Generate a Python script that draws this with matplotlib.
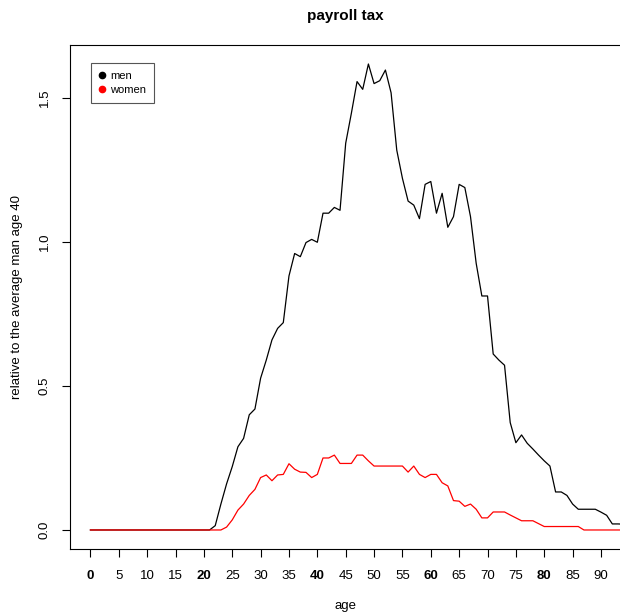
import numpy as np
import matplotlib.pyplot as plt
from matplotlib.lines import Line2D

plt.rcParams['font.family'] = ['Liberation Sans', 'DejaVu Sans']

# payroll tax by age, relative to the average man aged 40
ages = list(range(0, 96))
men = ([0.0] * 22 +
       [0.015, 0.09, 0.16, 0.22, 0.289, 0.318, 0.40, 0.42, 0.527, 0.59,   # 22-31
        0.66, 0.70, 0.72, 0.882, 0.96, 0.949, 0.998, 1.009, 0.999, 1.10,   # 32-41
        1.10, 1.12, 1.11, 1.343, 1.447, 1.557, 1.53, 1.618, 1.55, 1.56,    # 42-51
        1.597, 1.518, 1.319, 1.221, 1.142, 1.128, 1.081, 1.20, 1.21, 1.10, # 52-61
        1.169, 1.051, 1.088, 1.20, 1.189, 1.088, 0.926, 0.8125, 0.8125, 0.611,  # 62-71
        0.59, 0.572, 0.373, 0.303, 0.33, 0.301, 0.281, 0.26, 0.24, 0.222,  # 72-81
        0.132, 0.132, 0.12, 0.09, 0.072, 0.072, 0.072, 0.072, 0.062, 0.051,  # 82-91
        0.021, 0.021, 0.02, 0.02])                                          # 92-95
women = ([0.0] * 23 +
         [0.0, 0.01, 0.035, 0.069, 0.09, 0.12, 0.141, 0.182, 0.191, 0.171,   # 23-32
          0.191, 0.193, 0.23, 0.211, 0.201, 0.20, 0.182, 0.193, 0.25, 0.25,  # 33-42
          0.26, 0.231, 0.231, 0.231, 0.26, 0.26, 0.24, 0.222, 0.222, 0.222,  # 43-52
          0.222, 0.222, 0.222, 0.201, 0.222, 0.193, 0.182, 0.193, 0.193, 0.164,  # 53-62
          0.153, 0.102, 0.10, 0.082, 0.09, 0.072, 0.042, 0.042, 0.0625, 0.0625,  # 63-72
          0.0625, 0.052, 0.042, 0.032, 0.032, 0.032, 0.022, 0.012, 0.012, 0.012,  # 73-82
          0.012, 0.012, 0.012, 0.012, 0.0, 0.0, 0.0, 0.0, 0.0, 0.0,          # 83-92
          0.0, 0.0, 0.0])                                                    # 93-95

xticks = list(range(0, 91, 5))
yticks = [0.0, 0.5, 1.0, 1.5]

fig = plt.figure(figsize=(6.2, 6.14), dpi=100)
ax = fig.add_axes([70 / 620, 65.3 / 614, 551.4 / 620, 504 / 614])

ax.plot(ages, men, color='black', lw=0.9)
ax.plot(ages, women, color='red', lw=0.9)

# R style limits: 0..90 plus 4% each side
ax.set_xlim(-3.6, 93.6)
ax.set_ylim(-0.065, 1.685)

ax.set_xticks(xticks)
ax.set_xticklabels([str(t) for t in xticks])
for lab, t in zip(ax.get_xticklabels(), xticks):
    if t % 20 == 0:
        lab.set_fontweight('bold')
ax.set_yticks(yticks)
ax.set_yticklabels([f'{t:.1f}' for t in yticks], rotation=90, va='center')

ax.tick_params(axis='x', direction='out', length=6, width=0.8, pad=9, labelsize=9.5)
ax.tick_params(axis='y', direction='out', length=6, width=0.8, pad=8, labelsize=9.5)
for s in ax.spines.values():
    s.set_linewidth(0.8)

ax.set_title('payroll tax', fontsize=11, fontweight='bold', pad=18)
ax.set_xlabel('age', fontsize=9.5, labelpad=13)
ax.set_ylabel('relative to the average man age 40', fontsize=9.5, labelpad=11)

handles = [Line2D([], [], ls='none', marker='o', ms=4.5, color='black'),
           Line2D([], [], ls='none', marker='o', ms=4.5, color='red')]
leg = ax.legend(handles, ['men', 'women'], loc='upper left',
                bbox_to_anchor=(0.0375, 0.963), borderaxespad=0, fontsize=8,
                fancybox=False, framealpha=1, edgecolor='#555555',
                handlelength=0.6, handletextpad=0.45, labelspacing=0.35,
                borderpad=0.7)
leg.get_frame().set_linewidth(0.8)

fig.savefig('out.png', dpi=100)
